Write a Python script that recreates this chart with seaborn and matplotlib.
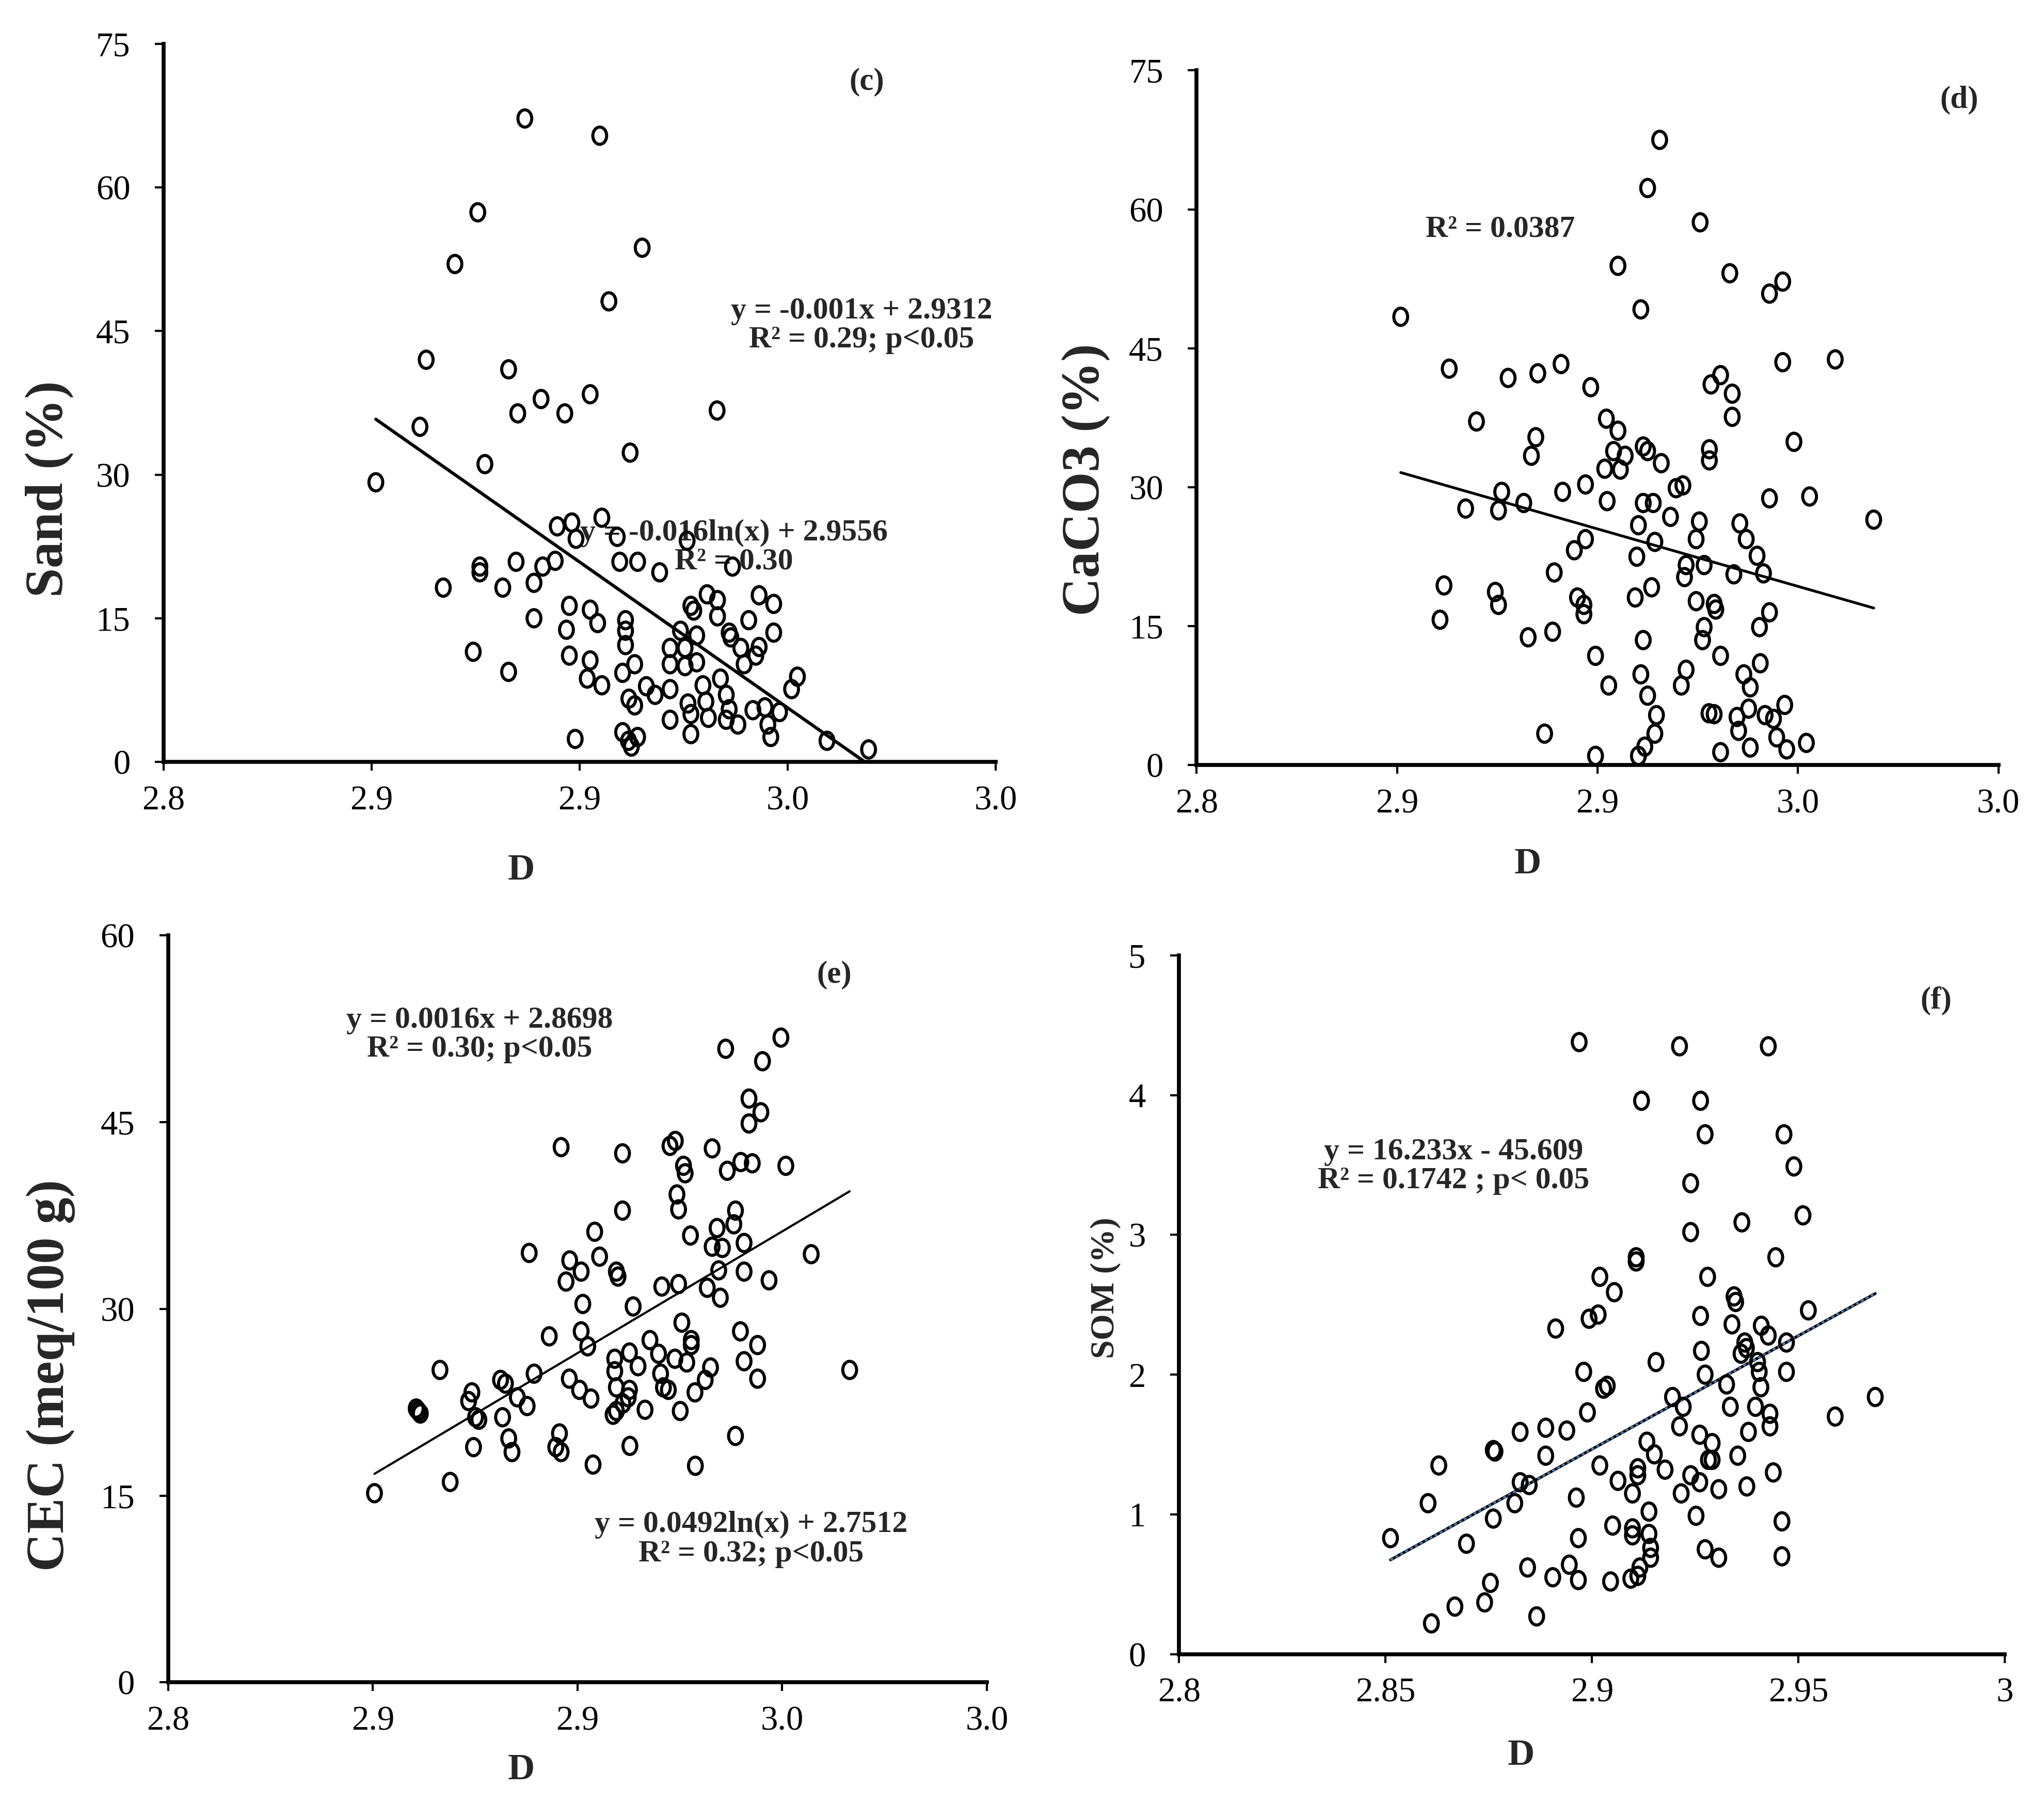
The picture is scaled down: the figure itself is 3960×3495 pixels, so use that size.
import matplotlib
matplotlib.use("Agg")
import matplotlib.pyplot as plt
from matplotlib.path import Path
import seaborn as sns
import numpy as np

# ---- data ----
# (c) Sand
sand_D = [2.8868, 2.9048, 2.8755, 2.8700, 2.9150, 2.9070, 2.8631, 2.8829, 2.9330, 2.8616,
          2.8907, 2.8851, 2.8964, 2.9025, 2.8772, 2.9121, 2.8510,
          2.8946, 2.8981, 2.8991, 2.9053, 2.9090, 2.9258, 2.8760, 2.8760, 2.8847, 2.8911,
          2.8941, 2.8890, 2.8815, 2.8672, 2.9096, 2.9139, 2.9192, 2.9367, 2.8975, 2.9025,
          2.9043, 2.8890, 2.8968, 2.9110, 2.9110, 2.9110, 2.9306, 2.9267, 2.9274, 2.9331,
          2.9331, 2.9406, 2.9431, 2.9466, 2.9466, 2.9359, 2.9363, 2.9242, 2.9281, 2.9217,
          2.9253, 2.9217, 2.9253, 2.9281, 2.9387, 2.9431, 2.9423, 2.9395, 2.8975, 2.9025,
          2.9018, 2.9053, 2.8744, 2.8829, 2.9132, 2.9103, 2.9160, 2.9132, 2.9118, 2.9181,
          2.9217, 2.9260, 2.9267, 2.9296, 2.9303, 2.9338, 2.9352, 2.9359, 2.9309, 2.9352,
          2.9380, 2.9416, 2.9445, 2.9452, 2.9459, 2.9480, 2.9509, 2.9523, 2.9217, 2.9267,
          2.8989, 2.9103, 2.9117, 2.9139, 2.9124, 2.9594, 2.9694]
sand = [67.2, 65.4, 57.4, 52.0, 53.7, 48.1, 42.0, 41.0, 36.7, 35.0,
        37.9, 36.4, 36.4, 38.4, 31.1, 32.3, 29.2,
        24.6, 25.0, 23.3, 25.5, 23.5, 23.1, 20.4, 19.8, 20.9, 20.4,
        21.0, 18.7, 18.2, 18.2, 20.9, 20.9, 19.8, 20.4, 16.3, 15.9,
        14.5, 15.0, 13.8, 14.8, 13.7, 12.2, 17.5, 16.3, 15.8, 16.9,
        15.2, 14.8, 17.4, 16.5, 13.5, 13.5, 13.0, 13.7, 13.2, 11.9,
        11.9, 10.2, 10.0, 10.4, 11.9, 12.0, 11.1, 10.2, 11.1, 10.6,
        8.7, 8.0, 11.5, 9.4, 10.2, 9.3, 7.9, 5.9, 6.6, 7.0,
        7.6, 6.1, 5.0, 8.0, 6.3, 8.7, 7.0, 5.5, 4.6, 4.4,
        3.9, 5.4, 5.7, 3.9, 2.6, 5.2, 7.6, 8.9, 4.4, 2.9,
        2.4, 3.1, 2.2, 2.6, 1.6, 2.2, 1.3]

# (d) CaCO3
caco3_D = [2.9155, 2.9125, 2.9256, 2.9051, 2.9330, 2.9462, 2.9429, 2.9108, 2.8509, 2.8630,
           2.8777, 2.8851, 2.8909, 2.8983, 2.9462, 2.9593, 2.9307, 2.9283, 2.9336, 2.9336,
           2.8698, 2.8846, 2.8835, 2.9022, 2.9051, 2.9114, 2.9125, 2.9040, 2.9069, 2.9279,
           2.9279, 2.9490, 2.9159,
           2.9018, 2.9057, 2.8970, 2.8913, 2.9024, 2.9114, 2.9139, 2.9213, 2.9196, 2.9429,
           2.9529, 2.9689, 2.8761, 2.8753, 2.8671, 2.8816, 2.9182, 2.9254, 2.9246, 2.9102,
           2.9355, 2.9371, 2.9398, 2.9414, 2.9340, 2.9266, 2.9221, 2.9217, 2.9143, 2.9098,
           2.8970, 2.8942, 2.8892, 2.8617, 2.8607, 2.8745, 2.8753, 2.8950, 2.8966, 2.8966,
           2.9094, 2.9135, 2.9246, 2.9291, 2.9295, 2.9429, 2.9404, 2.9266, 2.9262, 2.8888,
           2.8827, 2.9114, 2.8995, 2.9307, 2.9406, 2.9365, 2.9381, 2.9221, 2.9209, 2.9108,
           2.9125, 2.9028, 2.9147, 2.9278, 2.9291, 2.9377, 2.9348, 2.9418, 2.9467, 2.9439,
           2.9352, 2.9447, 2.9381, 2.9472, 2.9521, 2.9143, 2.9118, 2.9102, 2.9307, 2.8868,
           2.8995]
caco3 = [67.5, 62.3, 58.6, 53.9, 53.1, 52.2, 50.9, 49.2, 48.4, 42.8,
         41.8, 42.3, 43.3, 40.8, 43.5, 43.8, 42.1, 41.1, 40.1, 37.6,
         37.1, 35.4, 33.4, 37.4, 36.1, 34.4, 33.9, 33.9, 33.4, 34.1,
         32.9, 34.9, 32.6,
         32.0, 31.9, 30.3, 29.5, 28.5, 28.3, 28.3, 30.2, 29.9, 28.8,
         29.0, 26.5, 29.5, 27.5, 27.7, 28.3, 26.8, 26.3, 24.4, 25.9,
         26.1, 24.4, 22.6, 20.7, 20.6, 21.6, 21.6, 20.3, 24.1, 22.5,
         24.4, 23.2, 20.8, 19.4, 15.7, 18.7, 17.3, 18.1, 17.3, 16.3,
         18.1, 19.2, 17.7, 17.4, 16.8, 16.5, 14.9, 14.9, 13.5, 14.4,
         13.8, 13.5, 11.8, 11.8, 11.0, 9.8, 8.4, 10.3, 8.6, 9.8,
         7.5, 8.6, 5.4, 5.6, 5.5, 6.1, 5.2, 5.4, 6.5, 5.0,
         3.7, 3.0, 1.9, 1.7, 2.4, 3.4, 2.0, 1.0, 1.4, 3.4,
         1.0]

# (e) CEC
cec_D = [2.9497, 2.9362, 2.9452, 2.9419, 2.9448, 2.9419, 2.8960, 2.9110, 2.9226, 2.9239,
         2.9329, 2.9259, 2.9263, 2.9366, 2.9399, 2.9427, 2.9509, 2.9243, 2.9247, 2.9110,
         2.9386, 2.9341, 2.9382, 2.9276, 2.9329, 2.9354, 2.9407, 2.9042, 2.8882, 2.8981,
         2.9009, 2.8972, 2.9054, 2.9095, 2.9099, 2.9571, 2.9345, 2.9407, 2.9468, 2.9206,
         2.9247, 2.9317, 2.9349, 2.9013, 2.9136,
         2.9255, 2.9398, 2.9440, 2.9407, 2.9440, 2.8931, 2.9009, 2.9025, 2.8894, 2.8812,
         2.8824, 2.8742, 2.8734, 2.8664, 2.8606, 2.8611, 2.8616, 2.8759, 2.8751, 2.8817,
         2.8853, 2.8877, 2.8980, 2.9005, 2.9033, 2.9091, 2.9127, 2.9148, 2.9177, 2.9198,
         2.9091, 2.9095, 2.9095, 2.9087, 2.9111, 2.9127, 2.9124, 2.9165, 2.9203, 2.9222,
         2.9210, 2.9251, 2.9238, 2.9267, 2.9278, 2.9278, 2.9287, 2.9312, 2.9325, 2.9665,
         2.8832, 2.8840, 2.8956, 2.8947, 2.8960, 2.8746, 2.9128, 2.9386, 2.9038, 2.9288,
         2.8689, 2.8504]
cec = [51.8, 50.9, 49.9, 46.9, 45.8, 44.9, 43.0, 42.5, 43.1, 43.5,
       42.9, 41.5, 40.9, 41.1, 41.8, 41.7, 41.5, 39.2, 38.0, 37.9,
       37.9, 36.5, 36.8, 35.9, 35.0, 34.9, 35.3, 36.2, 34.5, 33.9,
       33.0, 32.2, 34.2, 33.0, 32.6, 34.4, 33.1, 33.0, 32.3, 31.8,
       32.0, 31.7, 30.9, 30.4, 30.2,
       28.9, 28.2, 27.1, 25.8, 24.4, 27.8, 28.2, 27.0, 24.8, 24.3,
       24.0, 23.3, 22.6, 25.1, 22.0, 21.8, 21.6, 21.1, 21.3, 21.3,
       22.9, 22.2, 24.4, 23.5, 22.8, 26.0, 26.5, 25.4, 27.5, 26.4,
       25.0, 23.7, 21.8, 21.5, 22.4, 23.5, 22.9, 21.9, 24.8, 23.5,
       23.7, 21.8, 26.0, 25.7, 27.1, 27.5, 23.3, 24.3, 25.3, 25.1,
       19.6, 18.5, 20.0, 18.9, 18.5, 18.9, 19.0, 19.8, 17.5, 17.4,
       16.1, 15.2]

# (f) SOM
som_D = [2.8969, 2.9212, 2.9427, 2.9120, 2.9263, 2.9274, 2.9465, 2.9489, 2.9239, 2.9511,
         2.9363, 2.9239, 2.9107, 2.9107, 2.9445, 2.9019, 2.9054, 2.9280, 2.9344, 2.9348,
         2.9524, 2.9015, 2.8993, 2.8912, 2.9263, 2.9339, 2.9410, 2.9427, 2.9370, 2.9374,
         2.9361, 2.9471, 2.9265, 2.9155, 2.9401, 2.8980, 2.9274, 2.9405, 2.9471,
         2.9409, 2.9326, 2.9028, 2.9037, 2.9195, 2.9221, 2.9335, 2.9396, 2.9431, 2.9431,
         2.9589, 2.9686, 2.8989, 2.9212, 2.9379, 2.9261, 2.9291, 2.8826, 2.8888, 2.8939,
         2.8761, 2.8765, 2.8888, 2.9133, 2.9151, 2.9353, 2.9291, 2.9282, 2.8629, 2.9019,
         2.9111, 2.9111, 2.9063, 2.9177, 2.9239, 2.8826, 2.8848, 2.9261, 2.9098, 2.9216,
         2.9307, 2.9375, 2.9439, 2.8603, 2.8813, 2.8962, 2.8761, 2.9138, 2.9252, 2.9460,
         2.8512, 2.8696, 2.8967, 2.9050, 2.9098, 2.9098, 2.9138, 2.9142, 2.9142, 2.9274,
         2.9307, 2.9460, 2.8844, 2.8905, 2.8945, 2.8967, 2.9045, 2.9094, 2.9111, 2.9116,
         2.8754, 2.8740, 2.8668, 2.8611, 2.8866]
som = [4.38, 4.35, 4.35, 3.96, 3.96, 3.72, 3.72, 3.49, 3.37, 3.14,
       3.09, 3.02, 2.84, 2.81, 2.84, 2.70, 2.59, 2.70, 2.56, 2.52,
       2.46, 2.43, 2.40, 2.33, 2.42, 2.36, 2.35, 2.28, 2.23, 2.19,
       2.15, 2.23, 2.17, 2.09, 2.09, 2.02, 2.00, 2.02, 2.02,
       1.91, 1.93, 1.90, 1.92, 1.84, 1.77, 1.77, 1.77, 1.72, 1.63,
       1.70, 1.84, 1.73, 1.63, 1.59, 1.57, 1.51, 1.59, 1.62, 1.60,
       1.46, 1.45, 1.42, 1.52, 1.43, 1.42, 1.39, 1.39, 1.35, 1.35,
       1.33, 1.28, 1.24, 1.32, 1.28, 1.23, 1.21, 1.23, 1.15, 1.15,
       1.18, 1.20, 1.30, 1.08, 1.08, 1.12, 0.97, 1.02, 0.99, 0.95,
       0.83, 0.79, 0.83, 0.92, 0.90, 0.85, 0.86, 0.76, 0.69, 0.75,
       0.69, 0.70, 0.62, 0.55, 0.64, 0.53, 0.52, 0.54, 0.56, 0.62,
       0.51, 0.37, 0.34, 0.22, 0.27]

# trend lines as drawn (slope, intercept)
sand_fit = (-304.6, 904.2)
caco3_fit = (-124.0, 385.1)
cec_fit = (195.5, -540.5)
som_fit = (16.233, -45.609)

# axis ticks
d_ticks = [2.8, 2.85, 2.9, 2.95, 3.0]
d_labels = ["2.8", "2.9", "2.9", "3.0", "3.0"]
som_d_labels = ["2.8", "2.85", "2.9", "2.95", "3"]
pct_ticks = [0, 15, 30, 45, 60, 75]
cec_ticks = [0, 15, 30, 45, 60]
som_ticks = [0, 1, 2, 3, 4, 5]

sns.set_theme(style="ticks")
plt.rcParams['font.family'] = ['Liberation Serif', 'DejaVu Serif']

# layout measured on a 1568 x 1384 preview of the target
W, H = 1568.0, 1384.0

# the markers in the target are slightly taller than wide
_circ = Path.unit_circle()
oval = Path(_circ.vertices * np.array([0.8, 1.0]), _circ.codes)


def box(l, r, b, t):
    return [l / W, 1 - b / H, (r - l) / W, (b - t) / H]


def ftext(ax, sx, sy, s, size=43, weight="bold", rot=0, z=1):
    ax.text(sx / W, 1 - sy / H, s, transform=fig.transFigure, ha="center", va="center",
            fontsize=size, fontweight=weight, rotation=rot, zorder=z,
            linespacing=1.05, multialignment="center")


fig = plt.figure(figsize=(39.6, 34.95), dpi=100)


def panel(rect, D, vals, fit, yticks, xlabels, line_kw):
    ax = fig.add_axes(rect)
    sns.scatterplot(x=D, y=vals, ax=ax, s=580, marker=oval, linewidth=4.3,
                    edgecolor="black", zorder=3, legend=False)
    coll = ax.collections[-1]
    coll.set_facecolor("none")
    coll.set_edgecolor("black")
    xs = np.array([min(D), max(D)])
    ys = fit[0] * xs + fit[1]
    for kw in line_kw:
        ax.plot(xs, ys, zorder=2, **kw)
    ax.set_xlim(2.8, 3.0)
    ax.set_ylim(yticks[0], yticks[-1])
    ax.set_xticks(d_ticks)
    ax.set_xticklabels(xlabels)
    ax.set_yticks(yticks)
    sns.despine(ax=ax)
    for side in ["left", "bottom"]:
        ax.spines[side].set_linewidth(5.5)
        ax.spines[side].set_color("black")
    ax.tick_params(axis="both", direction="out", length=12.5, width=3,
                   labelsize=48, color="black", labelcolor="black")
    ax.tick_params(axis="y", pad=34)
    ax.tick_params(axis="x", pad=20)
    ax.set_xlabel("")
    ax.set_ylabel("")
    ax.set_facecolor("white")
    ax.grid(False)
    return ax


ax_c = panel(box(125.5, 764, 584.5, 33.6), sand_D, sand, sand_fit, pct_ticks, d_labels,
             [dict(color="black", lw=4.5)])
ax_d = panel(box(918, 1533, 587, 54), caco3_D, caco3, caco3_fit, pct_ticks, d_labels,
             [dict(color="black", lw=3.8)])
ax_e = panel(box(129, 757, 1290.7, 717.7), cec_D, cec, cec_fit, cec_ticks, d_labels,
             [dict(color="black", lw=3.0)])
ax_f = panel(box(904.5, 1538, 1269, 733), som_D, som, som_fit, som_ticks, som_d_labels,
             [dict(color="black", lw=4.0),
              dict(color="#4f81bd", lw=2.6, dashes=(1.6, 1.4))])

# panel (c)
ftext(ax_c, 665, 63, "(c)", size=44)
ftext(ax_c, 661, 250, "y = -0.001x + 2.9312\nR\u00b2 = 0.29; p<0.05")
ftext(ax_c, 563, 420, "y = -0.016ln(x) + 2.9556\nR\u00b2 = 0.30")
ftext(ax_c, 38, 375, "Sand (%)", size=74, rot=90)
ftext(ax_c, 400, 668, "D", size=52)

# panel (d)
ftext(ax_d, 1503, 77, "(d)", size=44)
ftext(ax_d, 1151, 176, "R\u00b2 = 0.0387")
ftext(ax_d, 833, 368, "CaCO3 (%)", size=74, rot=90)
ftext(ax_d, 1172, 663, "D", size=52)

# panel (e)
ftext(ax_e, 640, 748, "(e)", size=44)
ftext(ax_e, 368, 794, "y = 0.0016x + 2.8698\nR\u00b2 = 0.30; p<0.05")
ftext(ax_e, 576, 1181, "y = 0.0492ln(x) + 2.7512\nR\u00b2 = 0.32; p<0.05")
ftext(ax_e, 39, 1055, "CEC (meq/100 g)", size=74, rot=90)
ftext(ax_e, 400, 1358, "D", size=52)

# panel (f)
ftext(ax_f, 1485, 768, "(f)", size=44)
ftext(ax_f, 1115, 895, "y = 16.233x - 45.609\nR\u00b2 = 0.1742 ; p< 0.05")
ftext(ax_f, 848, 988, "SOM (%)", size=47, rot=90)
ftext(ax_f, 1167, 1347, "D", size=52)

fig.savefig("out.png", dpi=100, facecolor="white")
